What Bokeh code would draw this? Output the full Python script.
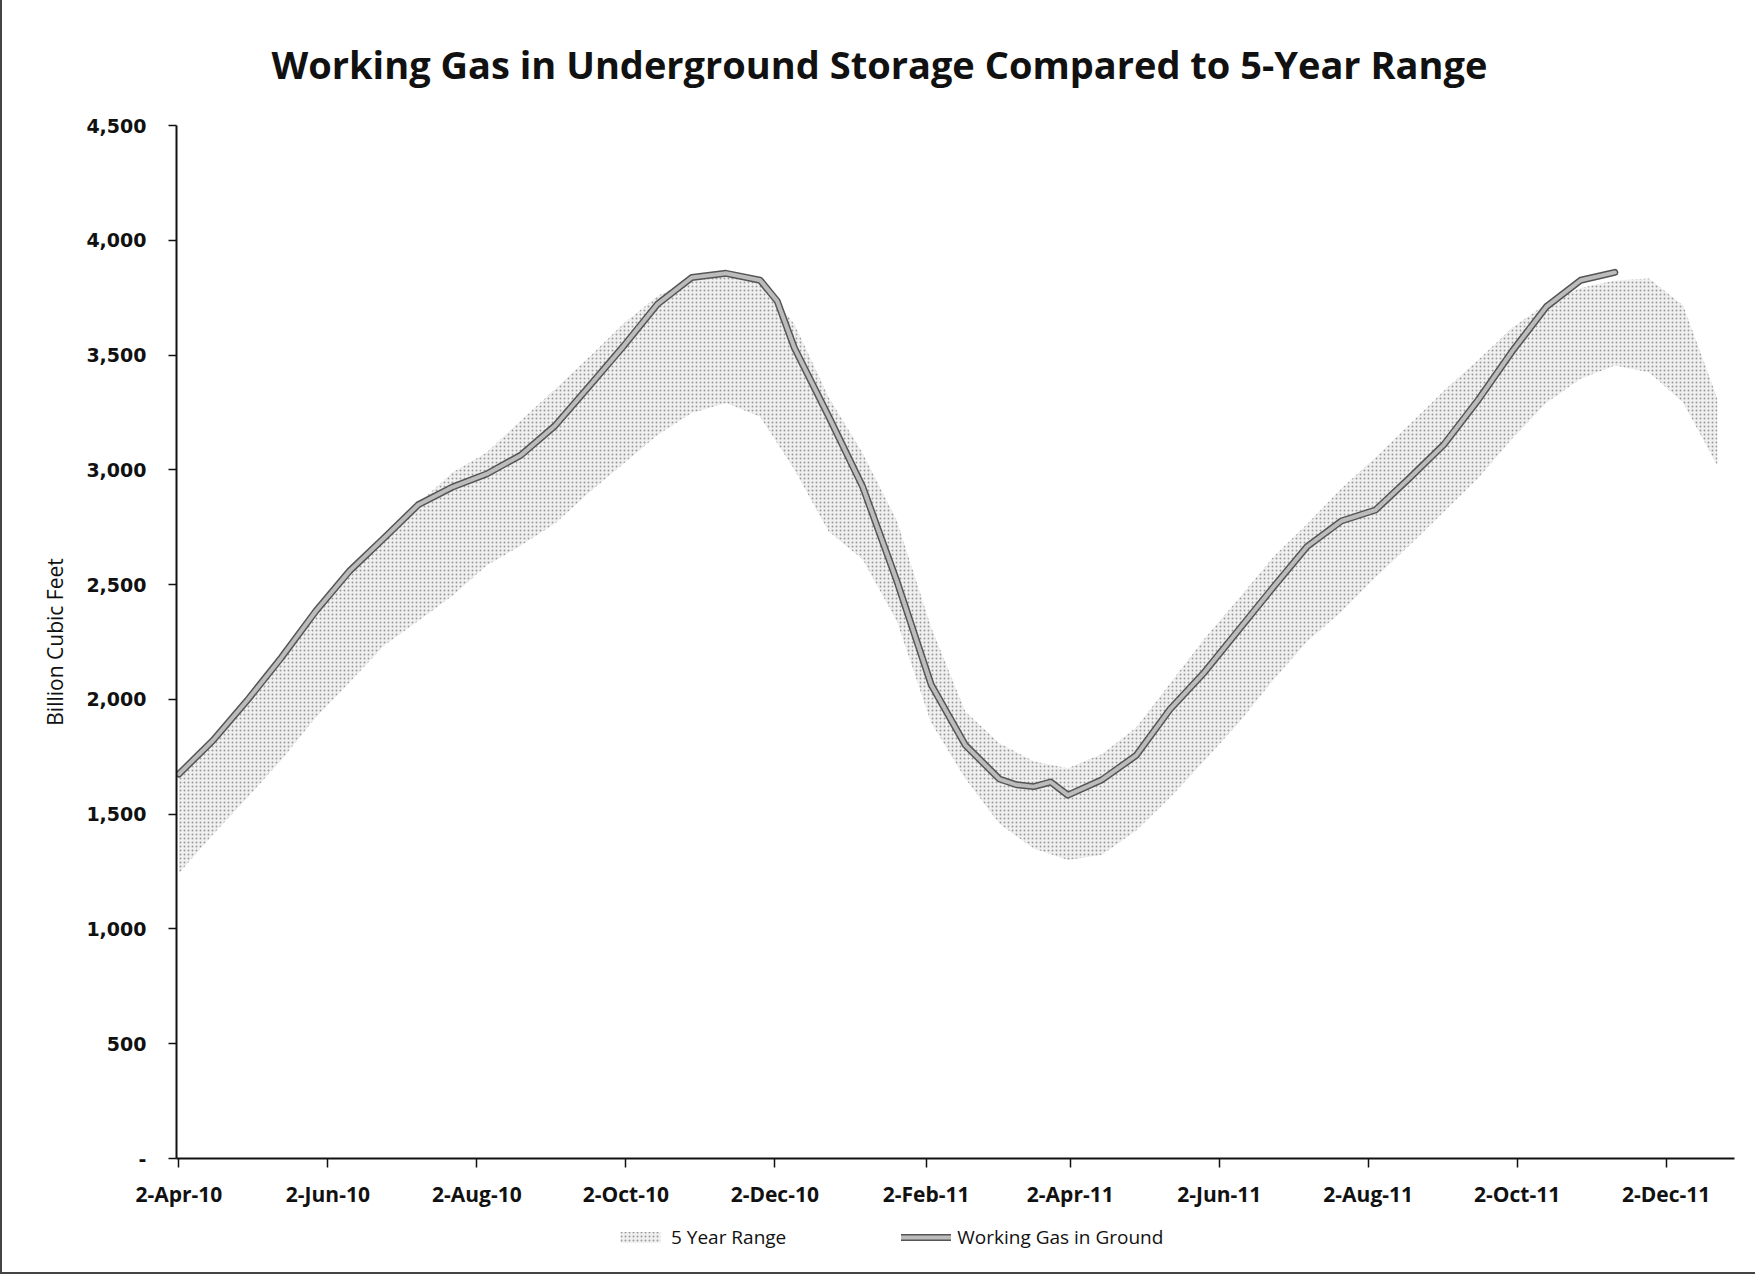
from datetime import datetime
from bokeh.plotting import figure
from bokeh.layouts import column
from bokeh.models import (FixedTicker, DatetimeTickFormatter, NumeralTickFormatter,
                          Range1d, Legend, LegendItem, ColumnDataSource)
from bokeh.embed import file_html
from bokeh.resources import INLINE

# ---------------- data (Billion Cubic Feet) ----------------
gas_dates = ["2010-04-02", "2010-04-16", "2010-04-30", "2010-05-14", "2010-05-28",
             "2010-06-11", "2010-06-25", "2010-07-09", "2010-07-23", "2010-08-06",
             "2010-08-20", "2010-09-03", "2010-09-17", "2010-10-01", "2010-10-15",
             "2010-10-29", "2010-11-12", "2010-11-26", "2010-12-03", "2010-12-10",
             "2010-12-24", "2011-01-07", "2011-01-21", "2011-02-04", "2011-02-18",
             "2011-03-04", "2011-03-11", "2011-03-18", "2011-03-25", "2011-04-01",
             "2011-04-15", "2011-04-29", "2011-05-13", "2011-05-27", "2011-06-10",
             "2011-06-24", "2011-07-08", "2011-07-22", "2011-08-05", "2011-08-19",
             "2011-09-02", "2011-09-16", "2011-09-30", "2011-10-14", "2011-10-28",
             "2011-11-11"]
working_gas = [1675, 1822, 1996, 2183, 2384,
               2561, 2703, 2848, 2925, 2982,
               3064, 3192, 3364, 3538, 3722,
               3838, 3856, 3826, 3735, 3532,
               3234, 2926, 2515, 2065, 1801,
               1653, 1628, 1620, 1640, 1583,
               1650, 1756, 1959, 2119, 2303,
               2487, 2666, 2777, 2825, 2965,
               3110, 3304, 3517, 3711, 3826,
               3860]

range_dates = ["2010-04-02", "2010-04-16", "2010-04-30", "2010-05-14", "2010-05-28",
               "2010-06-11", "2010-06-25", "2010-07-09", "2010-07-23", "2010-08-06",
               "2010-08-20", "2010-09-03", "2010-09-17", "2010-10-01", "2010-10-15",
               "2010-10-29", "2010-11-12", "2010-11-26", "2010-12-10", "2010-12-24",
               "2011-01-07", "2011-01-21", "2011-02-04", "2011-02-18", "2011-03-04",
               "2011-03-18", "2011-04-01", "2011-04-15", "2011-04-29", "2011-05-13",
               "2011-05-27", "2011-06-10", "2011-06-24", "2011-07-08", "2011-07-22",
               "2011-08-05", "2011-08-19", "2011-09-02", "2011-09-16", "2011-09-30",
               "2011-10-14", "2011-10-28", "2011-11-11", "2011-11-25", "2011-12-09",
               "2011-12-23"]
range_max = [1675, 1815, 1985, 2161, 2374,
             2539, 2698, 2853, 2988, 3075,
             3215, 3351, 3491, 3636, 3757,
             3828, 3842, 3821, 3635, 3317,
             3072, 2778, 2314, 1947, 1809,
             1730, 1700, 1762, 1878, 2071,
             2265, 2440, 2619, 2764, 2919,
             3054, 3199, 3344, 3479, 3619,
             3725, 3792, 3825, 3834, 3716,
             3310]
range_min = [1243, 1413, 1572, 1737, 1921,
             2076, 2235, 2341, 2452, 2583,
             2670, 2766, 2901, 3026, 3152,
             3248, 3291, 3231, 3001, 2732,
             2609, 2340, 1899, 1655, 1458,
             1350, 1300, 1323, 1429, 1574,
             1734, 1898, 2083, 2252, 2382,
             2532, 2672, 2817, 2963, 3137,
             3292, 3397, 3455, 3425, 3292,
             3018]

tick_dates = ["2010-04-02", "2010-06-02", "2010-08-02", "2010-10-02", "2010-12-02",
              "2011-02-02", "2011-04-02", "2011-06-02", "2011-08-02", "2011-10-02",
              "2011-12-02"]
y_ticks = [0, 500, 1000, 1500, 2000, 2500, 3000, 3500, 4000, 4500]

TITLE = "Working Gas in Underground Storage Compared to 5-Year Range"
Y_LABEL = "Billion Cubic Feet"
LEGEND_RANGE = "5 Year Range"
LEGEND_GAS = "Working Gas in Ground"

# ---------------- styles ----------------
BAND_STYLE = dict(fill_color="#f0f0f0", hatch_pattern="dot", hatch_color="#9a9a9a",
                  hatch_scale=4, hatch_weight=1)
DARK_STYLE = dict(line_color="#555555", line_width=7, line_join="round", line_cap="round")
LIGHT_STYLE = dict(line_color="#bcbcbc", line_width=4, line_join="round", line_cap="round")

# ---------------- build ----------------
def to_dt(s):
    return datetime.strptime(s, "%Y-%m-%d")

gas_src = ColumnDataSource(dict(x=[to_dt(d) for d in gas_dates], y=working_gas))
rng_src = ColumnDataSource(dict(x=[to_dt(d) for d in range_dates],
                                lo=range_min, hi=range_max))

p = figure(frame_width=1558, frame_height=1033, x_axis_type="datetime",
           output_backend="svg", toolbar_location=None,
           x_range=Range1d(to_dt("2010-04-01"), to_dt("2011-12-30")),
           y_range=Range1d(0, 4500),
           min_border_left=174, min_border_right=21,
           min_border_top=125, min_border_bottom=60)

p.outline_line_color = None
p.grid.visible = False
p.background_fill_color = "white"
p.border_fill_color = "white"

band = p.varea(x="x", y1="lo", y2="hi", source=rng_src, **BAND_STYLE)
line_dark = p.line(x="x", y="y", source=gas_src, **DARK_STYLE)
line_light = p.line(x="x", y="y", source=gas_src, **LIGHT_STYLE)

# title
p.title.text = TITLE
p.title.align = "left"
p.title.offset = 95
p.title.standoff = 71
p.title.text_font = "Open Sans"
p.title.text_font_size = "38px"
p.title.text_font_style = "bold"
p.title.text_color = "#111111"

# x axis
xa = p.xaxis[0]
xa.ticker = FixedTicker(ticks=[to_dt(d).timestamp() * 1000 for d in tick_dates])
fmt = "%-d-%b-%y"
xa.formatter = DatetimeTickFormatter(days=fmt, months=fmt, years=fmt)
xa.axis_line_width = 2
xa.axis_line_color = "#111111"
xa.major_tick_out = 9
xa.major_tick_in = 0
xa.major_tick_line_color = "#111111"
xa.major_tick_line_width = 1.5
xa.minor_tick_line_color = None
xa.major_label_standoff = 12
xa.major_label_text_font = "Open Sans"
xa.major_label_text_font_size = "21px"
xa.major_label_text_font_style = "bold"
xa.major_label_text_color = "#111111"

# y axis
ya = p.yaxis[0]
ya.ticker = FixedTicker(ticks=y_ticks)
ya.formatter = NumeralTickFormatter(format="0,0")
ya.major_label_overrides = {0: "-"}
ya.axis_line_width = 2
ya.axis_line_color = "#111111"
ya.major_tick_out = 8
ya.major_tick_in = 0
ya.major_tick_line_color = "#111111"
ya.major_tick_line_width = 1.5
ya.minor_tick_line_color = None
ya.major_label_standoff = 22
ya.major_label_text_font = "DejaVu Sans"
ya.major_label_text_font_size = "19px"
ya.major_label_text_font_style = "bold"
ya.major_label_text_color = "#111111"
ya.axis_label = Y_LABEL
ya.axis_label_standoff = 14
ya.axis_label_text_font = "Open Sans"
ya.axis_label_text_font_size = "21px"
ya.axis_label_text_font_style = "normal"
ya.axis_label_text_color = "#111111"

# ---------------- legend strip (own small figure below the chart) ----------------
# its renderers use the same sources, but its ranges keep them out of view,
# so only the legend swatches show
lg = figure(width=1753, height=54, output_backend="svg", toolbar_location=None,
            x_range=Range1d(0, 1), y_range=Range1d(0, 1),
            x_axis_location=None, y_axis_location=None, min_border=0)
lg.outline_line_color = None
lg.grid.visible = False
lg.border_fill_color = "white"
lg_band = lg.varea(x="x", y1="lo", y2="hi", source=rng_src, **BAND_STYLE)
lg_dark = lg.line(x="x", y="y", source=gas_src, **DARK_STYLE)
lg_light = lg.line(x="x", y="y", source=gas_src, **LIGHT_STYLE)

legend = Legend(items=[LegendItem(label=LEGEND_RANGE, renderers=[lg_band]),
                       LegendItem(label=LEGEND_GAS, renderers=[lg_dark, lg_light])],
                orientation="horizontal", location=(439, 22),
                glyph_width=50, glyph_height=14, label_standoff=6, spacing=115,
                padding=0, margin=0,
                border_line_color=None, background_fill_alpha=0,
                label_text_font="Open Sans", label_text_font_size="19px",
                label_text_color="#111111")
lg.add_layout(legend, "center")

layout = column(p, lg, spacing=0)
layout.styles = {"border-left": "2px solid #444", "border-bottom": "2px solid #444",
                 "border-right": "1px solid #888"}

open("out.html", "w").write(file_html(layout, INLINE))
